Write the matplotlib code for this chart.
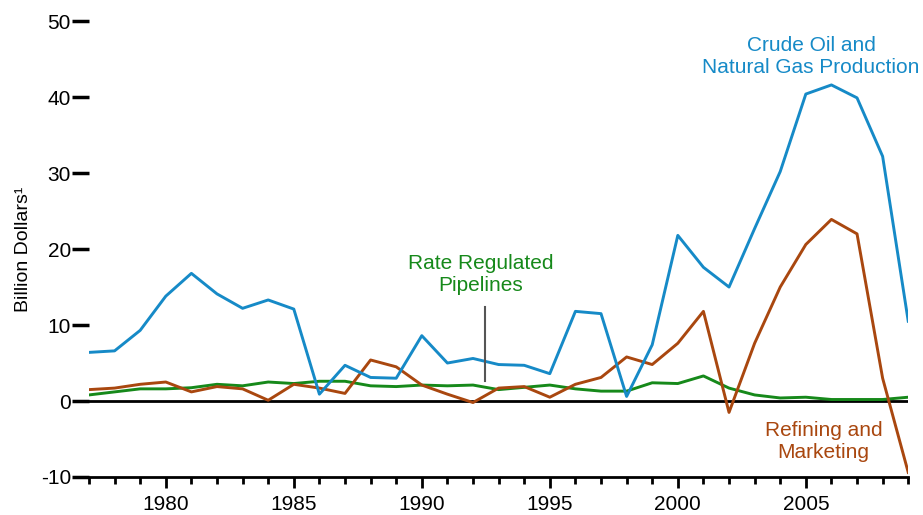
import matplotlib
matplotlib.use("Agg")
import matplotlib.pyplot as plt
from matplotlib.ticker import MultipleLocator

plt.rcParams['font.family'] = ['Liberation Sans', 'DejaVu Sans']
plt.rcParams['axes.unicode_minus'] = False

years = list(range(1977, 2010))

# billion dollars
crude_oil_gas = [6.4, 6.6, 9.3, 13.8, 16.8, 14.1, 12.2, 13.3, 12.1, 0.9,
                 4.7, 3.1, 3.0, 8.6, 5.0, 5.6, 4.8, 4.7, 3.6, 11.8,
                 11.5, 0.6, 7.4, 21.8, 17.6, 15.0, 22.7, 30.2, 40.4, 41.6,
                 39.9, 32.2, 10.5]
refining = [1.5, 1.7, 2.2, 2.5, 1.2, 1.9, 1.6, 0.1, 2.2, 1.7,
            1.0, 5.4, 4.5, 2.1, 0.9, -0.2, 1.7, 1.9, 0.5, 2.2,
            3.1, 5.8, 4.8, 7.6, 11.8, -1.5, 7.6, 15.0, 20.6, 23.9,
            22.0, 3.0, -9.4]
pipelines = [0.8, 1.2, 1.6, 1.6, 1.75, 2.2, 2.0, 2.5, 2.3, 2.6,
             2.6, 2.0, 1.9, 2.1, 2.0, 2.1, 1.5, 1.8, 2.1, 1.6,
             1.3, 1.3, 2.4, 2.3, 3.3, 1.7, 0.8, 0.4, 0.5, 0.2,
             0.2, 0.2, 0.5]

blue = '#168ac7'
orange = '#a9470f'
green = '#16891a'

fig = plt.figure(figsize=(9.23, 5.15), dpi=100)
ax = fig.add_axes([0.0964, 0.0738, 0.8876, 0.8852])

ax.axhline(0, color='black', lw=2, zorder=1)
ax.plot(years, pipelines, color=green, lw=2.1, zorder=3)
ax.plot(years, refining, color=orange, lw=2.1, zorder=3)
ax.plot(years, crude_oil_gas, color=blue, lw=2.1, zorder=3)

ax.set_xlim(1977, 2009)
ax.set_ylim(-10, 50)

for s in ['top', 'right', 'left']:
    ax.spines[s].set_visible(False)
ax.spines['bottom'].set_linewidth(2)

ax.set_yticks(range(-10, 51, 10))
ax.tick_params(axis='y', length=12, width=2.5, direction='out', labelsize=15, pad=1)
ax.xaxis.set_major_locator(MultipleLocator(5))
ax.xaxis.set_minor_locator(MultipleLocator(1))
ax.tick_params(axis='x', which='major', length=8, width=2, labelsize=15, pad=5)
ax.tick_params(axis='x', which='minor', length=5, width=2)

ax.set_ylabel('Billion Dollars¹', fontsize=14, labelpad=6)

ax.text(2005.2, 45.3, 'Crude Oil and\nNatural Gas Production', color=blue,
        fontsize=15, ha='center', va='center', linespacing=1.2)
ax.text(1992.3, 16.6, 'Rate Regulated\nPipelines', color=green,
        fontsize=15, ha='center', va='center', linespacing=1.2)
ax.plot([1992.45, 1992.45], [2.6, 12.4], color='#555555', lw=1.5, zorder=4)
ax.text(2005.7, -5.3, 'Refining and\nMarketing', color=orange,
        fontsize=15, ha='center', va='center', linespacing=1.2)

fig.savefig('out.png', dpi=100)
